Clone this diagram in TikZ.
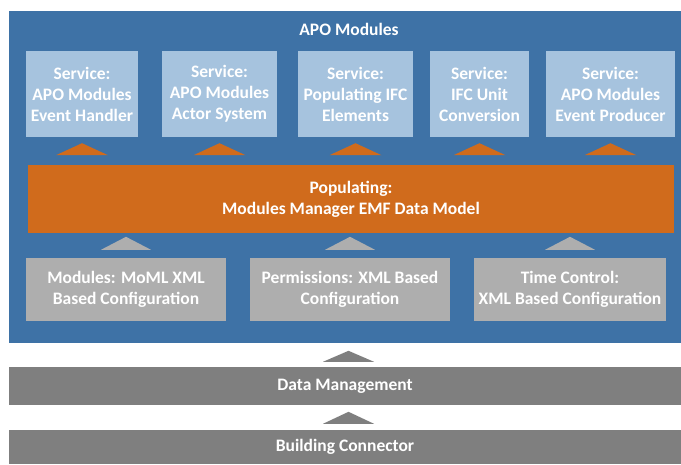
\documentclass[tikz,border=0pt]{standalone}
\usepackage{fontspec}
\setmainfont{Carlito}
\usetikzlibrary{calc}
\definecolor{apoblue}{HTML}{3E72A6}
\definecolor{srvblue}{HTML}{A6C3DE}
\definecolor{poporange}{HTML}{D06B1C}
\definecolor{cfggray}{HTML}{AEAEAE}
\definecolor{bargray}{HTML}{7F7F7F}

\begin{document}
\begin{tikzpicture}[x=1pt, y=-1pt,
        lbl/.style={text=white, align=center, font=\bfseries\fontsize{17.5}{21}\selectfont, inner sep=0pt},
        srv/.style={lbl, fill=srvblue, minimum height=86pt},
        cfg/.style={lbl, fill=cfggray, minimum height=63pt, minimum width=200pt}]
        % Canvas
        \useasboundingbox (0, 0) rectangle (681, 464);
        \fill [white] (0, 0) rectangle (681, 464);
        % Modules frame
        \fill [apoblue] (9, 11) rectangle (681, 343);
        \node [lbl] (title) at (349, 29) {APO Modules};
        % Services
        \node [srv, minimum width=112pt] (s1) at (82, 94) {Service:\\APO Modules\\Event Handler};
        \node [srv, minimum width=115pt] (s2) at (219.5, 94) {Service:\\APO Modules\\Actor System};
        \node [srv, minimum width=115pt] (s3) at (355.5, 94) {Service:\\Populating IFC\\Elements};
        \node [srv, minimum width=99pt] (s4) at (479.5, 94) {Service:\\IFC Unit\\Conversion};
        \node [srv, minimum width=129pt] (s5) at (610.5, 94) {Service:\\APO Modules\\Event Producer};
        % Data model
        \node [lbl, fill=poporange, minimum width=646pt, minimum height=68pt] (pop) at (351, 199)
            {Populating:\\Modules Manager EMF Data Model};
        % Configurations
        \node [cfg] (m1) at (126, 289.5) {Modules: MoML XML\\Based Configuration};
        \node [cfg] (m2) at (350, 289.5) {Permissions: XML Based\\Configuration};
        \node [cfg, minimum width=192pt] (m3) at (570, 289.5) {Time Control:\\XML Based Configuration};
        % Lower layers
        \node [lbl, fill=bargray, minimum width=672pt, minimum height=38pt] (dm) at (345, 386) {Data Management};
        \node [lbl, fill=bargray, minimum width=672pt, minimum height=34pt] (bc) at (345, 447) {Building Connector};
        % Arrows
        \foreach \n in {s1, s2, s3, s4, s5}
            \fill [poporange] ($(\n.south)+(-26, 18)$) -- ++(52, 0) -- ++(-26, -12) -- cycle;
        \foreach \n in {m1, m2, m3}
            \fill [cfggray] ($(\n.north)+(-25, -8)$) -- ++(50, 0) -- ++(-25, -13) -- cycle;
        \fill [bargray] ($(dm.north)+(-22, -5)$) -- ++(51, 0) -- ++(-25.5, -11) -- cycle;
        \fill [bargray] ($(bc.north)+(-22, -6)$) -- ++(51, 0) -- ++(-25.5, -12) -- cycle;
    \end{tikzpicture}
\end{document}
